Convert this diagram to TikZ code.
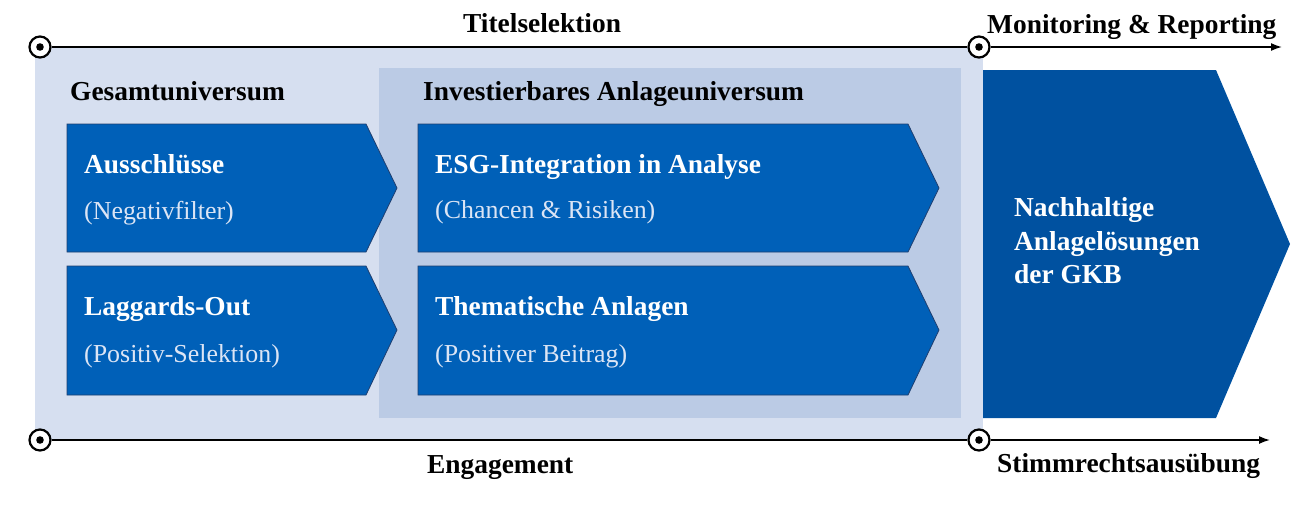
\documentclass[tikz,border=0pt]{standalone}
\usepackage{fontspec}
\setmainfont{Liberation Serif}
\usetikzlibrary{arrows.meta}
\definecolor{bglight}{HTML}{D6DFF0}
\definecolor{bginner}{HTML}{BBCBE5}
\definecolor{boxblue}{HTML}{0060B8}
\definecolor{boxedge}{HTML}{1F3F70}
\definecolor{bigblue}{HTML}{0051A0}
\definecolor{subtxt}{HTML}{DCE5F5}
\tikzset{
  chev/.style={fill=boxblue, draw=boxedge, line width=0.8pt},
  head/.style={anchor=base west, inner sep=0pt, font=\fontsize{27.4}{30}\selectfont\bfseries, text=black},
  ttl/.style={anchor=base west, inner sep=0pt, font=\fontsize{27.4}{30}\selectfont\bfseries, text=white},
  sub/.style={anchor=base west, inner sep=0pt, font=\fontsize{25.9}{30}\selectfont, text=subtxt},
  axis/.style={line width=1.6pt, black},
  marker/.style={circle, draw=black, line width=2.2pt, fill=white, minimum size=21pt, inner sep=0pt,
    path picture={\fill[black] (path picture bounding box.center) circle (3.8pt);}},
}
\begin{document}
\begin{tikzpicture}[x=1pt,y=-1pt]
\useasboundingbox (0,0) rectangle (1310,504);
% backgrounds
\fill[bglight] (35,47) rectangle (983,440);
\fill[bginner] (379,68) rectangle (961,418);
% small chevrons
\path[chev] (67,124) -- (366,124) -- (397,188) -- (366,252) -- (67,252) -- cycle;
\path[chev] (67,266) -- (366,266) -- (397,330) -- (366,395) -- (67,395) -- cycle;
\path[chev] (418,124) -- (908,124) -- (939,188) -- (908,252) -- (418,252) -- cycle;
\path[chev] (418,266) -- (908,266) -- (939,330) -- (908,395) -- (418,395) -- cycle;
% big arrow
\fill[bigblue] (983,70) -- (1216,70) -- (1290,244) -- (1216,418) -- (983,418) -- cycle;
% axes
\node[marker] (c1) at (40,47) {};
\node[marker] (c2) at (979,47) {};
\node[marker] (c3) at (40,440) {};
\node[marker] (c4) at (979,440) {};
\coordinate (e1) at (1282,47);
\coordinate (e2) at (1270,440);
\draw[axis] (c1) -- (c2);
\draw[axis,-{Latex[length=11pt,width=8pt]}] (c2) -- (e1);
\draw[axis] (c3) -- (c4);
\draw[axis,-{Latex[length=11pt,width=8pt]}] (c4) -- (e2);
% labels
\node[head] (t1) at (463,32) {Titelselektion};
\node[head] (t2) at (987,33) {Monitoring \& Reporting};
\node[head] (t3) at (427,473) {Engagement};
\node[head] (t4) at (997,472) {Stimmrechtsausübung};
\node[head] (g1) at (70,100) {Gesamtuniversum};
\node[head] (g2) at (423,100) {Investierbares Anlageuniversum};
\node[ttl] (a1) at (84,173) {Ausschlüsse};
\node[sub] (a2) at (84,219) {(Negativfilter)};
\node[ttl] (b1) at (84,315) {Laggards-Out};
\node[sub] (b2) at (84,362) {(Positiv-Selektion)};
\node[ttl] (d1) at (435,173) {ESG-Integration in Analyse};
\node[sub] (d2) at (435,218) {(Chancen \& Risiken)};
\node[ttl] (f1) at (435,315) {Thematische Anlagen};
\node[sub] (f2) at (435,362) {(Positiver Beitrag)};
\node[ttl] (n1) at (1014,216) {Nachhaltige};
\node[ttl] (n2) at (1014,250) {Anlagelösungen};
\node[ttl] (n3) at (1014,283) {der GKB};
\end{tikzpicture}
\end{document}
